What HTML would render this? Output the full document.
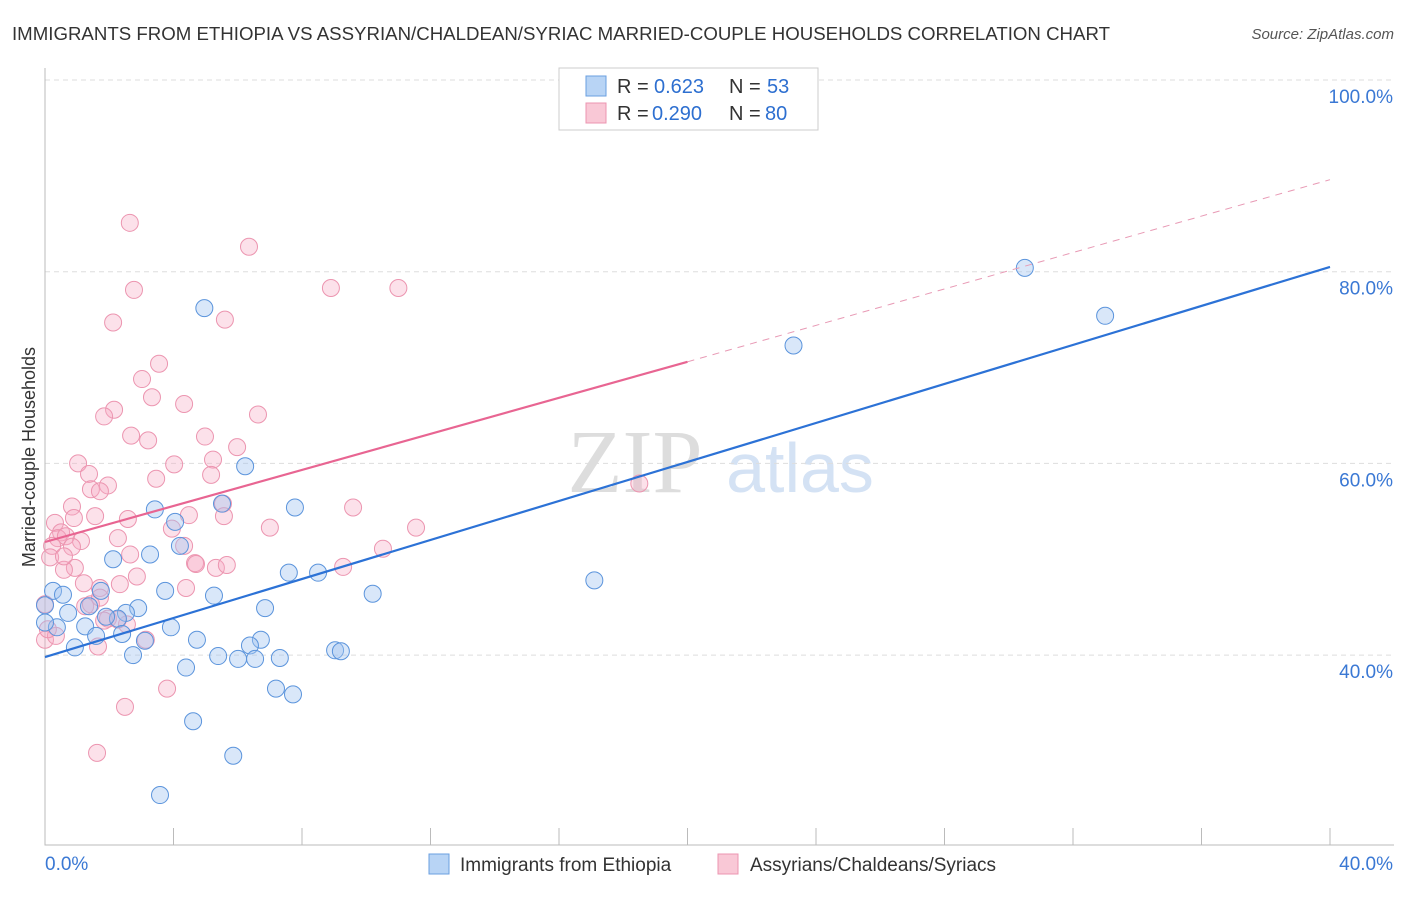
<!DOCTYPE html>
<html><head><meta charset="utf-8"><style>
body{margin:0;background:#fff;font-family:"Liberation Sans",sans-serif;}
</style></head><body>
<svg id="c" width="1406" height="892" xmlns="http://www.w3.org/2000/svg" font-family="Liberation Sans, sans-serif">
<text x="12" y="40" font-size="18" fill="#333" textLength="1098" lengthAdjust="spacingAndGlyphs">IMMIGRANTS FROM ETHIOPIA VS ASSYRIAN/CHALDEAN/SYRIAC MARRIED-COUPLE HOUSEHOLDS CORRELATION CHART</text>
<text x="1394" y="39" font-size="15" fill="#555" text-anchor="end" font-style="italic">Source: ZipAtlas.com</text>
<text x="635" y="492" font-size="90" fill="#ddd" text-anchor="middle" font-family="Liberation Serif, serif">ZIP</text>
<text x="800" y="492" font-size="70" fill="#d4e2f4" text-anchor="middle">atlas</text>
<g id="grid"></g><g id="axes"></g><g id="pts"></g><g id="lines"></g>
<text x="35" y="457" font-size="18" fill="#333" text-anchor="middle" transform="rotate(-90 35 457)">Married-couple Households</text>
<g font-size="20">
<rect x="559" y="68" width="259" height="62" fill="#fff" stroke="#ccc"/>
<rect x="586" y="76" width="20" height="20" fill="#b8d4f5" stroke="#6a9fe0"/>
<rect x="586" y="103" width="20" height="20" fill="#f9c8d6" stroke="#ec95b0"/>
<text x="617" y="93" fill="#333">R =</text><text x="654" y="93" fill="#2d6fd0">0.623</text>
<text x="729" y="93" fill="#333">N =</text><text x="767" y="93" fill="#2d6fd0">53</text>
<text x="617" y="120" fill="#333">R =</text><text x="652" y="120" fill="#2d6fd0">0.290</text>
<text x="729" y="120" fill="#333">N =</text><text x="765" y="120" fill="#2d6fd0">80</text>
</g>
<g>
<rect x="429" y="854" width="20" height="20" fill="#b8d4f5" stroke="#6a9fe0"/>
<text x="460" y="871" font-size="19" fill="#333">Immigrants from Ethiopia</text>
<rect x="718" y="854" width="20" height="20" fill="#f9c8d6" stroke="#ec95b0"/>
<text x="750" y="871" font-size="19" fill="#333">Assyrians/Chaldeans/Syriacs</text>
</g>
</svg>
<script>
const xTicks=[0,40];
const yTicks=[40,60,80,100];
const blueX=[4.96,30.5,33.0,23.3,6.23,3.42,7.78,5.51,4.05,4.20,3.27,2.12,7.59,8.50,17.1,10.2,3.74,5.26,1.74,0.25,0.56,6.85,2.90,2.52,0.72,1.37,2.27,1.90,1.25,3.92,0.37,0,1.59,2.40,3.11,4.73,6.72,6.38,0.93,2.74,5.39,6.01,6.54,7.31,9.03,9.21,4.39,7.19,7.72,4.61,5.86,3.58,0];
const blueY=[76.2,80.4,75.4,72.3,59.7,55.2,55.4,55.8,53.9,51.4,50.5,50.0,48.6,48.6,47.8,46.4,46.7,46.2,46.7,46.7,46.3,44.9,44.9,44.4,44.4,45.1,43.8,44.0,43.0,42.9,42.9,43.4,42.0,42.2,41.5,41.6,41.6,41.0,40.8,40.0,39.9,39.6,39.6,39.7,40.5,40.4,38.7,36.5,35.9,33.1,29.5,25.4,45.2];
const pinkX=[2.64,6.35,2.77,8.90,11.0,2.12,5.60,3.55,3.02,3.33,4.33,2.15,1.84,6.63,2.68,3.21,4.98,5.98,1.03,4.02,5.23,1.37,3.46,5.17,1.96,1.43,1.71,5.54,0.84,9.59,0.90,1.56,2.58,4.48,5.57,0.31,0.50,7.00,11.55,3.95,1.12,0.40,0.65,2.27,0.22,0.84,4.33,10.52,0.16,0.93,0.59,5.32,9.28,4.67,5.66,1.21,2.33,2.86,4.39,1.71,1.25,1.43,0,1.96,2.55,1.84,3.14,1.65,0,0.34,2.27,18.5,3.80,2.49,1.62,0.09,0.59,2.65,1.71,4.70];
const pinkY=[85.1,82.6,78.1,78.3,78.3,74.7,75.0,70.4,68.8,66.9,66.2,65.6,64.9,65.1,62.9,62.4,62.8,61.7,60.0,59.9,60.4,58.9,58.4,58.8,57.7,57.3,57.1,55.8,55.5,55.4,54.3,54.5,54.2,54.6,54.5,53.8,52.8,53.3,53.3,53.2,51.9,52.2,52.4,52.2,51.4,51.3,51.4,51.1,50.2,49.1,48.9,49.1,49.2,49.6,49.4,47.5,47.4,48.2,47.0,47.0,45.1,45.3,45.3,43.8,43.2,43.6,41.6,40.9,41.6,42.0,43.7,57.9,36.5,34.6,29.8,42.7,50.3,50.5,46.0,49.5];
const blueFit=[39.8,80.5];
const pinkFit=[51.8,70.6,89.6];
const NS='http://www.w3.org/2000/svg';
const X=v=>45+v/40*1285, Y=v=>80+(100-v)*9.585;
function mk(tag,attrs,parent){const e=document.createElementNS(NS,tag);for(const k in attrs)e.setAttribute(k,attrs[k]);document.getElementById(parent).appendChild(e);return e;}
yTicks.forEach(t=>{const g=mk('line',{x1:45,x2:1394,y1:Y(t),y2:Y(t),stroke:'#ddd','stroke-dasharray':'5,4'},'grid');


const l=mk('text',{x:1393,y:Y(t)+23,'font-size':19,fill:'#3a78d4','text-anchor':'end'},'axes');l.textContent=t.toFixed(1)+'%';

});
const ax=mk('path',{d:'M45 68V845H1394',stroke:'#bbb',fill:'none'},'axes');


for(let i=0;i<=10;i++){const t=mk('line',{x1:X(i*4),x2:X(i*4),y1:828,y2:845,stroke:'#bbb'},'axes');

}
xTicks.forEach((t,i)=>{const l=mk('text',{x:i?1393:45,y:870,'font-size':19,fill:'#3a78d4','text-anchor':i?'end':'start'},'axes');l.textContent=t.toFixed(1)+'%';

});
pinkX.forEach((v,i)=>{const c=mk('circle',{cx:X(v),cy:Y(pinkY[i]),r:8.5,fill:'rgba(246,170,195,0.35)',stroke:'#ec95b0','stroke-width':1},'pts');

});
blueX.forEach((v,i)=>{const c=mk('circle',{cx:X(v),cy:Y(blueY[i]),r:8.5,fill:'rgba(160,196,240,0.4)',stroke:'#5b94dc','stroke-width':1},'pts');

});
const b=mk('line',{x1:X(0),y1:Y(blueFit[0]),x2:X(40),y2:Y(blueFit[1]),stroke:'#2c72d6','stroke-width':2.2},'lines');


const p=mk('line',{x1:X(0),y1:Y(pinkFit[0]),x2:X(20),y2:Y(pinkFit[1]),stroke:'#e86592','stroke-width':2.2},'lines');


const pd=mk('line',{x1:X(20),y1:Y(pinkFit[1]),x2:X(40),y2:Y(pinkFit[2]),stroke:'#e89ab5','stroke-width':1,'stroke-dasharray':'7,6'},'lines');


</script>
</body></html>
